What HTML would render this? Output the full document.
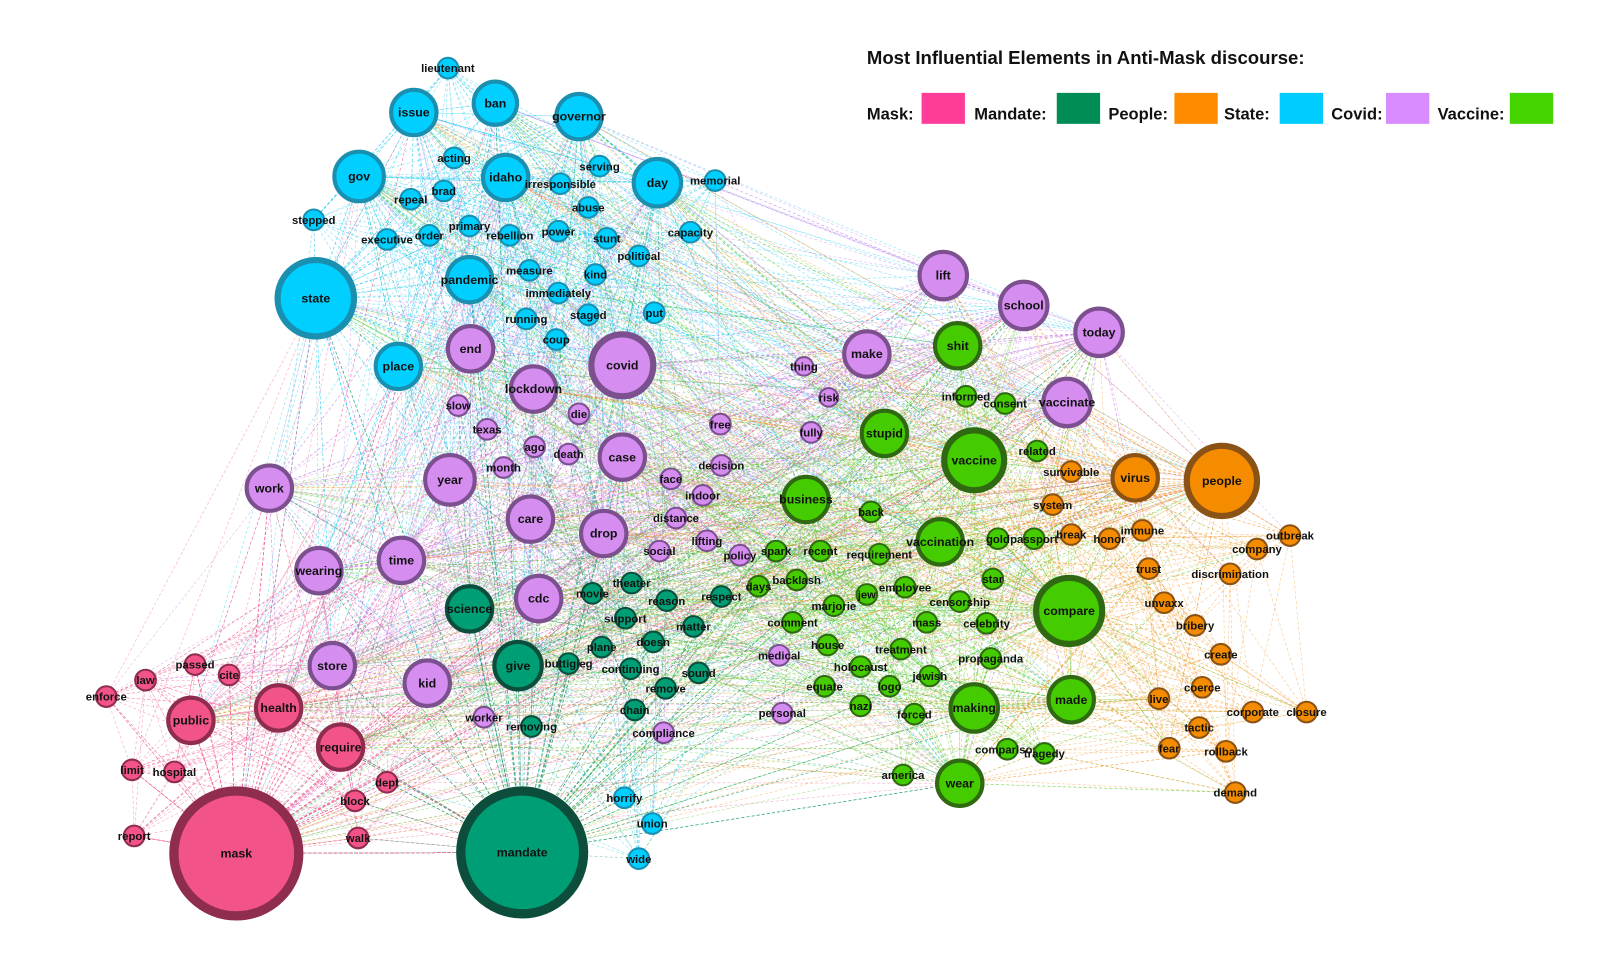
<!DOCTYPE html>
<html><head><meta charset="utf-8">
<style>
html,body{margin:0;padding:0;background:#fff;}
svg{display:block;}
text{font-family:"Liberation Sans",Arial,sans-serif;}
</style></head>
<body>
<svg id="g" width="1610" height="980" viewBox="0 0 1610 980" xmlns="http://www.w3.org/2000/svg">
<rect width="1610" height="980" fill="#fff"/>
<g transform="scale(1.032)">
<g id="edges"></g>
<g id="nodes"></g>
<g id="legend">
<text x="840" y="62" font-size="18" font-weight="bold" fill="#111">Most Influential Elements in Anti-Mask discourse:</text>
<text x="840" y="116" font-size="16" font-weight="bold" fill="#111">Mask:</text>
<rect x="893" y="90" width="42" height="30" fill="#ff3d99"/>
<text x="944" y="116" font-size="16" font-weight="bold" fill="#111">Mandate:</text>
<rect x="1024" y="90" width="42" height="30" fill="#008c55"/>
<text x="1074" y="116" font-size="16" font-weight="bold" fill="#111">People:</text>
<rect x="1138" y="90" width="42" height="30" fill="#ff8c00"/>
<text x="1186" y="116" font-size="16" font-weight="bold" fill="#111">State:</text>
<rect x="1240" y="90" width="42" height="30" fill="#00ccff"/>
<text x="1290" y="116" font-size="16" font-weight="bold" fill="#111">Covid:</text>
<rect x="1343" y="90" width="42" height="30" fill="#d98cff"/>
<text x="1393" y="116" font-size="16" font-weight="bold" fill="#111">Vaccine:</text>
<rect x="1463" y="90" width="42" height="30" fill="#44d400"/>
</g>
</g>
</svg>
<script>
var C={
S:{f:"#00cfff",b:"#1b8fb0",e:"#11c8f0"},
V:{f:"#d58df0",b:"#7c4f8f",e:"#c77ee8"},
T:{f:"#009e74",b:"#0c4d3c",e:"#1a9e6e"},
M:{f:"#f2548a",b:"#8e2d4d",e:"#f05c8f"},
G:{f:"#44cc00",b:"#2f6a12",e:"#5ccc22"},
P:{f:"#f58c00",b:"#8a5214",e:"#f5921e"}};
var N=[
["S","lieutenant",434,66,11],["S","issue",401,109,24],["S","ban",480,100,23],["S","governor",561,113,24],["S","acting",440,153,11],["S","gov",348,171,26],["S","idaho",490,172,24],["S","brad",430,185,11],["S","repeal",398,193,11],["S","irresponsible",543,178,11],["S","serving",581,161,11],["S","day",637,177,25],["S","memorial",693,175,11],["S","stepped",304,213,11],["S","primary",455,219,11],["S","executive",375,232,11],["S","order",416,228,11],["S","rebellion",494,228,11],["S","abuse",570,201,11],["S","power",541,224,11],["S","stunt",588,231,11],["S","capacity",669,225,11],["S","political",619,248,11],["S","state",306,289,40],["S","pandemic",455,271,24],["S","measure",513,262,11],["S","kind",577,266,11],["S","immediately",541,284,11],["S","running",510,309,11],["S","staged",570,305,11],["S","put",634,303,11],["S","coup",539,329,11],["S","place",386,355,24],["S","horrify",605,773,11],["S","union",632,798,11],["S","wide",619,832,11],
["V","lift",914,267,25],["V","school",992,296,25],["V","today",1065,322,25],["V","end",456,338,24],["V","covid",603,354,33],["V","make",840,343,24],["V","thing",779,355,10],["V","risk",803,385,10],["V","lockdown",517,377,24],["V","slow",444,393,11],["V","die",561,401,11],["V","texas",472,416,11],["V","free",698,411,11],["V","fully",786,419,11],["V","vaccinate",1034,390,25],["V","ago",518,433,11],["V","death",551,440,11],["V","case",603,443,24],["V","month",488,453,11],["V","decision",699,451,11],["V","work",261,473,24],["V","year",436,465,26],["V","face",650,464,11],["V","indoor",681,480,11],["V","care",514,503,24],["V","distance",655,502,11],["V","drop",585,517,24],["V","lifting",685,524,11],["V","social",639,534,11],["V","policy",717,538,11],["V","time",389,543,24],["V","wearing",309,553,24],["V","cdc",522,580,24],["V","store",322,645,24],["V","kid",414,662,24],["V","medical",755,635,11],["V","worker",469,695,11],["V","compliance",643,710,11],["V","personal",758,691,11],
["T","science",455,590,24],["T","movie",574,575,11],["T","theater",612,565,11],["T","reason",646,582,11],["T","respect",699,578,11],["T","support",606,599,11],["T","matter",672,607,11],["T","doesn",633,622,11],["T","plane",583,627,11],["T","give",502,645,25],["T","buttigieg",551,643,11],["T","continuing",611,648,11],["T","sound",677,652,11],["T","remove",645,667,11],["T","chain",615,688,11],["T","removing",515,704,11],["T","mandate",506,826,64],
["M","passed",189,644,11],["M","cite",222,654,11],["M","law",141,659,11],["M","enforce",103,675,11],["M","health",270,686,24],["M","public",185,698,24],["M","require",330,724,24],["M","limit",128,746,11],["M","hospital",169,748,11],["M","dept",375,758,11],["M","block",344,776,11],["M","report",130,810,11],["M","walk",347,812,11],["M","mask",229,827,65],
["G","shit",928,335,24],["G","informed",936,384,11],["G","consent",974,391,11],["G","stupid",857,420,24],["G","vaccine",944,446,32],["G","related",1005,437,11],["G","business",781,484,24],["G","back",844,496,11],["G","vaccination",911,525,24],["G","gold",967,522,11],["G","passport",1002,522,11],["G","spark",752,534,11],["G","recent",795,534,11],["G","requirement",852,537,11],["G","days",735,568,11],["G","backlash",772,562,11],["G","star",962,561,11],["G","jew",840,576,11],["G","employee",877,569,11],["G","censorship",930,583,11],["G","marjorie",808,587,11],["G","compare",1036,592,35],["G","mass",898,603,11],["G","celebrity",956,604,11],["G","comment",768,603,11],["G","house",802,625,11],["G","treatment",873,629,11],["G","holocaust",834,646,11],["G","propaganda",960,638,11],["G","jewish",901,655,11],["G","equate",799,665,11],["G","logo",862,665,11],["G","nazi",834,684,11],["G","forced",886,692,11],["G","making",944,686,25],["G","made",1038,678,24],["G","comparison",976,726,11],["G","tragedy",1012,730,11],["G","america",875,751,11],["G","wear",930,759,24],
["P","virus",1100,463,24],["P","people",1184,466,37],["P","survivable",1038,457,11],["P","system",1020,489,11],["P","break",1038,518,11],["P","honor",1075,522,11],["P","immune",1107,514,11],["P","outbreak",1250,519,11],["P","company",1218,532,11],["P","trust",1113,551,11],["P","discrimination",1192,556,11],["P","unvaxx",1128,584,11],["P","bribery",1158,606,11],["P","create",1183,634,11],["P","coerce",1165,666,11],["P","live",1123,677,11],["P","corporate",1214,690,11],["P","closure",1266,690,11],["P","tactic",1162,705,11],["P","fear",1133,725,11],["P","rollback",1188,728,11],["P","demand",1197,768,11]
];
var s=12345;function rnd(){s=(s*1103515245+12345)%2147483648;return s/2147483648;}
var NS="http://www.w3.org/2000/svg";
var E=document.getElementById("edges"),G=document.getElementById("nodes");
var big=N.filter(function(n){return n[4]>=23;});
function line(a,b,op){var l=document.createElementNS(NS,"line");l.setAttribute("x1",a[2]);l.setAttribute("y1",a[3]);l.setAttribute("x2",b[2]);l.setAttribute("y2",b[3]);l.setAttribute("stroke",C[a[0]].e);l.setAttribute("stroke-width","0.6");l.setAttribute("stroke-dasharray","3,2");l.setAttribute("opacity",op);E.appendChild(l);}
N.forEach(function(a){
 var k=a[4]>=60?140:(a[4]>=30?55:(a[4]>=23?26:12));
 for(var i=0;i<k;i++){
  var b;
  if(rnd()<0.5){b=big[Math.floor(rnd()*big.length)];}
  else{
   var c=[];N.forEach(function(n){var d=Math.hypot(n[2]-a[2],n[3]-a[3]);if(d<280&&n!==a)c.push(n);});
   b=c.length?c[Math.floor(rnd()*c.length)]:N[Math.floor(rnd()*N.length)];}
  if(b!==a)line(a,b,0.5);
 }
});
N.forEach(function(a){
 var c=document.createElementNS(NS,"circle");
 var r=a[4],bw=r>=60?9:(r>=30?6:(r>=23?4:2));
 c.setAttribute("cx",a[2]);c.setAttribute("cy",a[3]);c.setAttribute("r",r-bw/2);
 c.setAttribute("fill",C[a[0]].f);c.setAttribute("stroke",C[a[0]].b);c.setAttribute("stroke-width",bw);
 G.appendChild(c);
 var t=document.createElementNS(NS,"text");t.setAttribute("x",a[2]);t.setAttribute("y",a[3]+4);
 t.setAttribute("text-anchor","middle");t.setAttribute("font-size",r>=23?"12":"11");t.setAttribute("font-weight","bold");t.setAttribute("fill","#111");
 t.textContent=a[1];G.appendChild(t);
});
</script>
</body></html>
